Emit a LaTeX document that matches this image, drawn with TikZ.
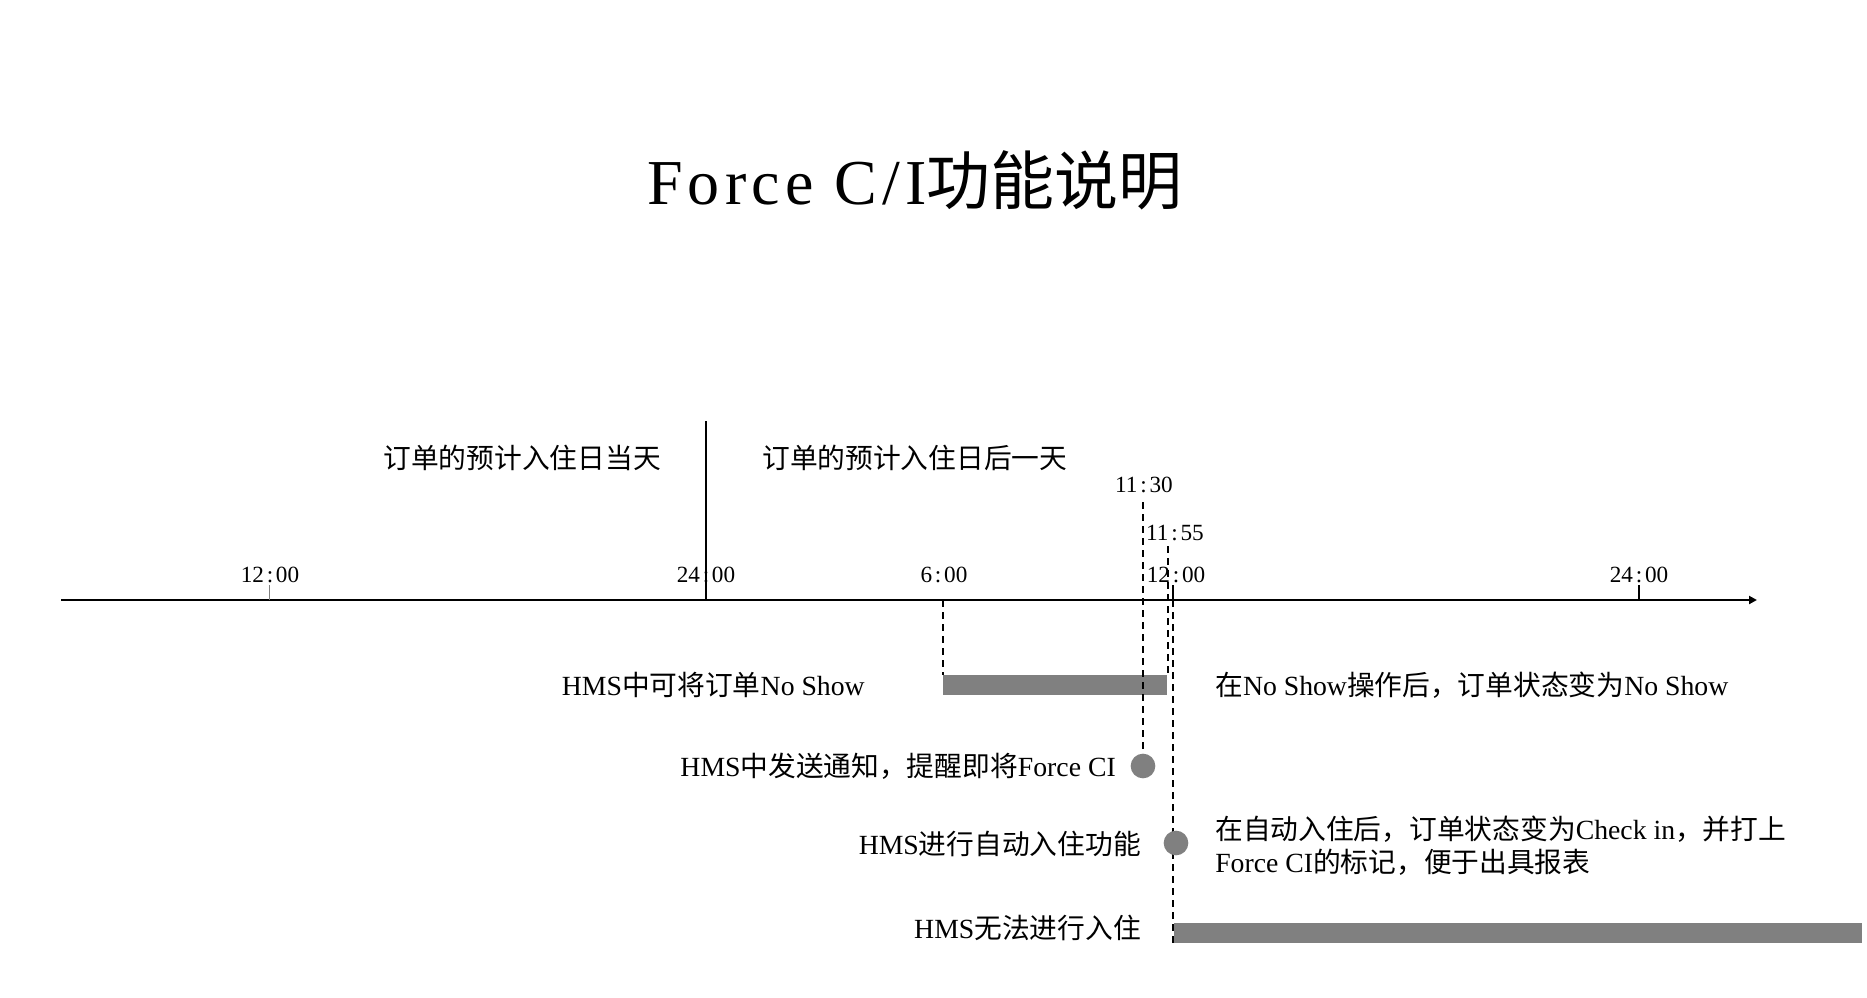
\documentclass[tikz,border=0pt]{standalone}
\usepackage{fontspec}
\setmainfont{Liberation Serif}
\newfontfamily\cjk{Noto Sans CJK SC}
\newfontfamily\titlelat{Liberation Serif}[LetterSpace=8]
\usetikzlibrary{arrows.meta}
\definecolor{bargray}{HTML}{808080}
\newcommand\zh[1]{{\cjk #1}}
\newcommand\tm[2]{#1\kern0.12em:\kern0.12em#2}
\tikzset{
  lbl/.style={inner sep=0pt, font=\fontsize{20.8pt}{25pt}\selectfont},
  tlbl/.style={inner sep=0pt, anchor=base, font=\fontsize{17.4pt}{20pt}\selectfont},
  dashline/.style={line width=1.5pt, dash pattern=on 5.25pt off 3.75pt},
  dotnode/.style={circle, fill=bargray, draw=none, inner sep=0pt, minimum size=18.5pt},
  axisline/.style={line width=1.5pt, -{Triangle[length=6pt,width=6pt]}},
  ticksolid/.style={line width=1pt},
  tickthin/.style={line width=0.75pt, gray},
  barfill/.style={fill=bargray},
}
\begin{document}
\begin{tikzpicture}[x=0.75pt,y=-0.75pt]
\fill[white] (0,0) rectangle (1867,998);
\useasboundingbox (0,0) rectangle (1867,998);

% title
\node[inner sep=0pt, anchor=base, font=\fontsize{48pt}{56pt}\selectfont] (title) at (915,205) {{\titlelat Force C/I}\zh{功能说明}};

% axis
\coordinate (ax0) at (61,600);
\coordinate (ax1) at (1757,600);
\draw[axisline] (ax0) -- (ax1);

% ticks
\coordinate (t12a) at (269,600);
\coordinate (t12atop) at (269,585);
\draw[tickthin] (t12a) -- (t12atop);
\coordinate (mid) at (706,600);
\coordinate (midtop) at (706,421);
\draw[line width=1.5pt] (mid) -- (midtop);
\coordinate (t12b) at (1173,600);
\coordinate (t12btop) at (1173,585);
\draw[ticksolid] (t12b) -- (t12btop);
\coordinate (t24b) at (1639,600);
\coordinate (t24btop) at (1639,585);
\draw[ticksolid] (t24b) -- (t24btop);

% time labels
\node[tlbl] (l1200a) at (270,582) {\tm{12}{00}};
\node[tlbl] (l2400a) at (706,582) {\tm{24}{00}};
\node[tlbl] (l0600) at (944,582) {\tm{6}{00}};
\node[tlbl] (l1130) at (1144,492) {\tm{11}{30}};
\node[tlbl] (l1155) at (1175,540) {\tm{11}{55}};
\node[tlbl] (l1200b) at (1176,582) {\tm{12}{00}};
\node[tlbl] (l2400b) at (1639,582) {\tm{24}{00}};

% day labels
\node[lbl, anchor=base east] (day1) at (661,468) {\zh{订单的预计入住日当天}};
\node[lbl, anchor=base west] (day2) at (762,468) {\zh{订单的预计入住日后一天}};

% bars
\coordinate (bar1a) at (943,675);
\coordinate (bar1b) at (1167,695);
\fill[barfill] (bar1a) rectangle (bar1b);
\coordinate (bar2a) at (1174,923);
\coordinate (bar2b) at (1862,943);
\fill[barfill] (bar2a) rectangle (bar2b);

% dashed guides
\coordinate (g600top) at (943,600);
\draw[dashline] (g600top) -- (bar1a);
\node[dotnode] (dot1) at (1143,766) {};
\coordinate (g1130top) at (1143,502);
\draw[dashline] (g1130top) -- (dot1.north);
\coordinate (g1155top) at (1167.5,546);
\coordinate (g1155bot) at (1167.5,675);
\draw[dashline] (g1155top) -- (g1155bot);
\coordinate (g1200bot) at (1173,943);
\draw[dashline] (t12b) -- (g1200bot);
\node[dotnode] (dot2) at (1176,843) {};

% row labels
\node[lbl, anchor=base east] (r1) at (865,695) {HMS\zh{中可将订单}No Show};
\node[lbl, anchor=base west] (r1b) at (1215,695) {\zh{在}No Show\zh{操作后，订单状态变为}No Show};
\node[lbl, anchor=base east] (r2) at (1116,776) {HMS\zh{中发送通知，提醒即将}Force CI};
\node[lbl, anchor=base east] (r3) at (1141,854) {HMS\zh{进行自动入住功能}};
\node[lbl, anchor=base west] (r3b) at (1215,839) {\zh{在自动入住后，订单状态变为}Check in\zh{，并打上}};
\node[lbl, anchor=base west] (r3c) at (1215,872) {Force CI\zh{的标记，便于出具报表}};
\node[lbl, anchor=base east] (r4) at (1141,938) {HMS\zh{无法进行入住}};
\end{tikzpicture}
\end{document}
